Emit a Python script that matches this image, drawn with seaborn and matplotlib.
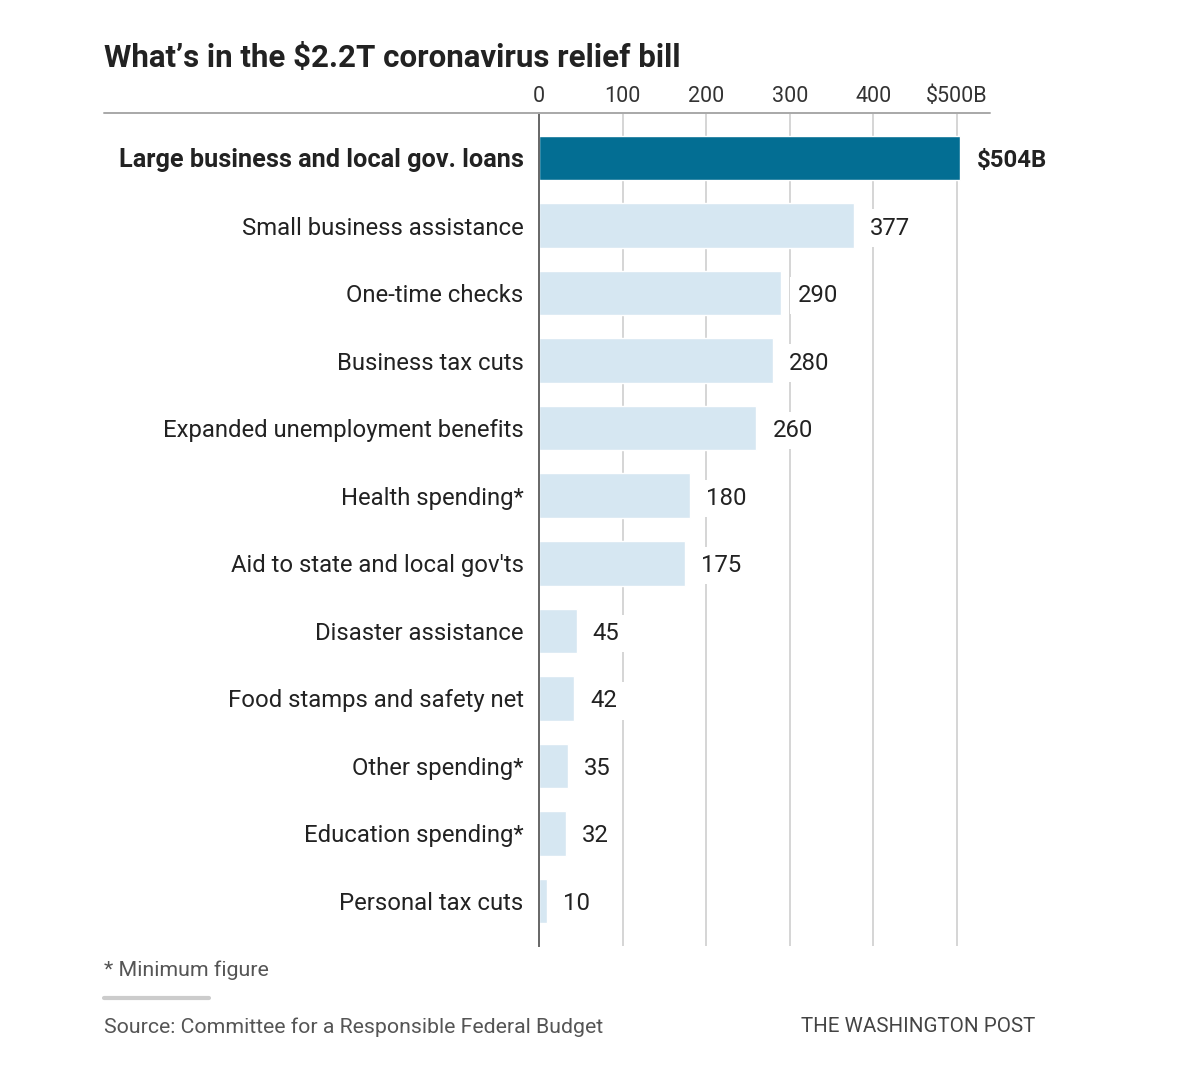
import matplotlib
matplotlib.use("Agg")
import matplotlib.pyplot as plt
from matplotlib.lines import Line2D
import seaborn as sns
import pandas as pd

categories = [
    "Large business and local gov. loans",
    "Small business assistance",
    "One-time checks",
    "Business tax cuts",
    "Expanded unemployment benefits",
    "Health spending*",
    "Aid to state and local gov'ts",
    "Disaster assistance",
    "Food stamps and safety net",
    "Other spending*",
    "Education spending*",
    "Personal tax cuts",
]
values = [504, 377, 290, 280, 260, 180, 175, 45, 42, 35, 32, 10]
value_labels = ["$504B", "377", "290", "280", "260", "180", "175", "45", "42", "35", "32", "10"]
tick_values = [0, 100, 200, 300, 400, 500]
tick_labels = ["0", "100", "200", "300", "400", "$500B"]

dark = "#036e93"
light = "#d6e7f2"
colors = [dark] + [light] * (len(categories) - 1)

df = pd.DataFrame({"category": categories, "value": values})

sns.set_theme(style="white")
plt.rcParams["font.family"] = ["Roboto", "DejaVu Sans"]

fig = plt.figure(figsize=(12, 10.73), dpi=100)
W, H = 1200, 1073
ax = fig.add_axes([539 / W, 1 - 946 / H, 451.5 / W, (946 - 113) / H])

sns.barplot(data=df, x="value", y="category", hue="category", palette=colors,
            saturation=1, legend=False, width=0.66, orient="h", ax=ax, zorder=3)

ax.set_xlim(0, 540)
ax.set_ylim(len(categories) - 1 + 0.666, -0.666)
ax.set_xlabel("")
ax.set_ylabel("")

# grid
ax.set_xticks(tick_values)
ax.grid(axis="x", color="#d2d2d2", lw=1.3, zorder=0)
ax.set_axisbelow(True)
ax.xaxis.tick_top()
ax.set_xticklabels(tick_labels, fontsize=15.5, color="#333333")
ax.tick_params(axis="x", length=0, pad=4)
ax.tick_params(axis="y", length=0, pad=11)
for s in ["top", "right", "bottom"]:
    ax.spines[s].set_visible(False)
ax.spines["left"].set_color("#666666")
ax.spines["left"].set_linewidth(1.4)
ax.spines["left"].set_zorder(4)

for i, lab in enumerate(ax.get_yticklabels()):
    lab.set_fontsize(17.2)
    lab.set_color("#222222")
    if i == 0:
        lab.set_fontweight("bold")
        lab.set_fontsize(18.2)

# value labels
for i, (v, t) in enumerate(zip(values, value_labels)):
    ax.annotate(t, xy=(v, i), xytext=(16, 0), textcoords="offset pixels",
                va="center_baseline", ha="left", fontsize=17.2, color="#222222",
                fontweight="bold" if i == 0 else "normal",
                bbox=dict(boxstyle="square,pad=0.3", fc="white", ec="none"), zorder=5)

# top rule
fig.add_artist(Line2D([104 / W, 990 / W], [1 - 113 / H, 1 - 113 / H], color="#a8a8a8", lw=1.4))

fig.text(104 / W, 1 - 58 / H, "What\u2019s in the $2.2T coronavirus relief bill",
         fontsize=22.5, fontweight="bold", color="#222222", va="center", ha="left")

fig.text(104 / W, 1 - 970 / H, "* Minimum figure", fontsize=15.4, color="#555555",
         va="center", ha="left")
fig.add_artist(Line2D([104 / W, 209 / W], [1 - 998 / H, 1 - 998 / H], color="#cccccc", lw=3))
fig.text(104 / W, 1 - 1027 / H, "Source: Committee for a Responsible Federal Budget",
         fontsize=15.3, color="#555555", va="center", ha="left")
fig.text(1035 / W, 1 - 1027 / H, "THE WASHINGTON POST", fontsize=14.8, color="#444444",
         va="center", ha="right")

fig.savefig("out.png", dpi=100, facecolor="white")
